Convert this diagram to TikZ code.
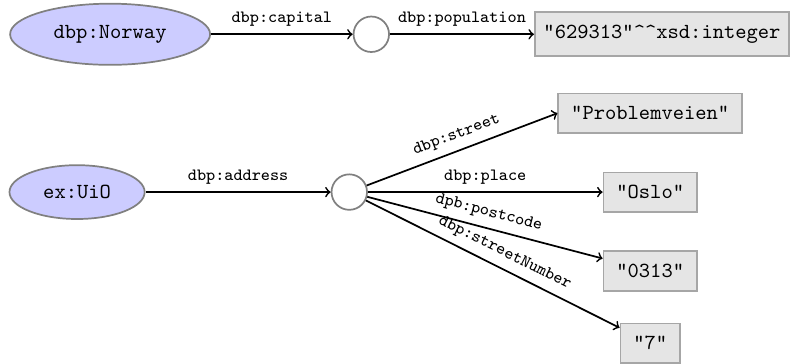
\documentclass[tikz,border=0pt]{standalone}
\usepackage{tikz}
\usetikzlibrary{shapes.geometric}

\begin{document}
\begin{tikzpicture}[
		res/.style={ellipse, draw=gray, fill=blue!20, thick, inner sep=1pt, font=\ttfamily},
		blank/.style={circle, draw=gray, fill=white, thick, minimum size=0.58cm, inner sep=0pt},
		lit/.style={rectangle, draw=gray!70, fill=gray!20, thick, inner xsep=6pt, inner ysep=6pt, font=\ttfamily},
		prop/.style={font=\footnotesize\ttfamily},
		link/.style={thick, ->}]
			\useasboundingbox (0,0) rectangle (12.98,-5.935);
			\node[res, minimum width=3.27cm, minimum height=1cm] (norway) at (1.80,-0.56) {dbp:Norway};
			\node[blank] (pop) at (6.07,-0.56) {};
			\node[lit, anchor=west, inner xsep=4pt] (count) at (8.73,-0.56) {"629313"\string^\string^xsd:integer};
			\node[res, minimum width=2.21cm, minimum height=0.88cm] (uio) at (1.26,-3.14) {ex:UiO};
			\node[blank] (addr) at (5.71,-3.14) {};
			\node[lit] (street) at (10.63,-1.85) {"Problemveien"};
			\node[lit] (place) at (10.63,-3.14) {"Oslo"};
			\node[lit] (code) at (10.63,-4.43) {"0313"};
			\node[lit] (number) at (10.63,-5.61) {"7"};
			\draw[link] (norway) -- node[prop, above] {dbp:capital} (pop);
			\draw[link] (pop) -- node[prop, above] {dbp:population} (count);
			\draw[link] (uio) -- node[prop, above] {dbp:address} (addr);
			\draw[link] (addr) -- node[prop, above, sloped] {dbp:street} (street.west);
			\draw[link] (addr) -- node[prop, above] {dbp:place} (place);
			\draw[link] (addr) -- node[prop, above, sloped] {dpb:postcode} (code);
			\draw[link] (addr) -- node[prop, above, sloped, pos=0.52] {dbp:streetNumber} (number);
		\end{tikzpicture}
\end{document}
